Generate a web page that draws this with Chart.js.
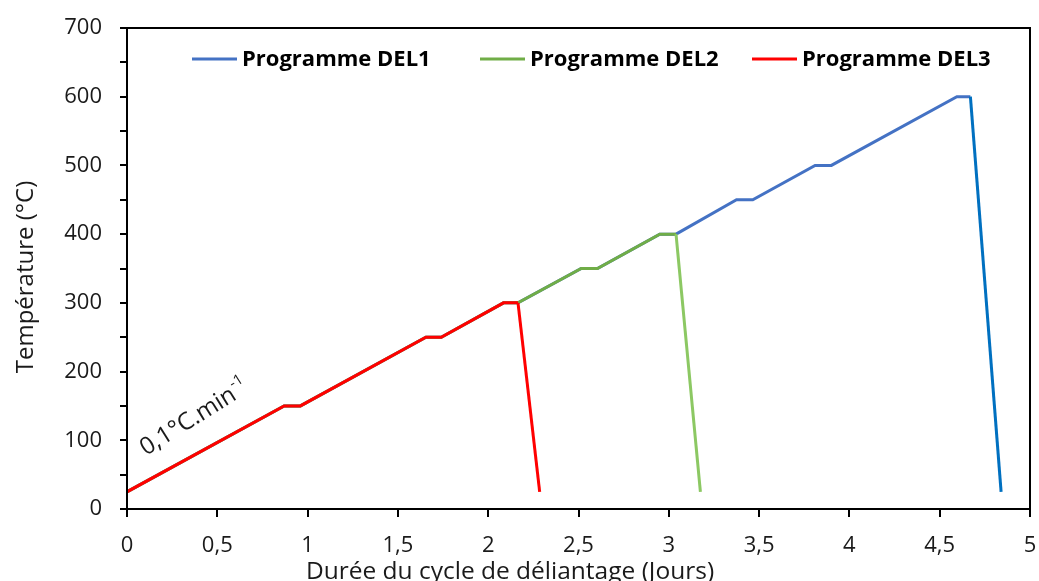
<!DOCTYPE html>
<html lang="fr">
<head>
<meta charset="utf-8">
<title>Programmes de déliantage</title>
<script src="https://cdn.jsdelivr.net/npm/chart.js@4.4.1/dist/chart.umd.min.js"></script>
<style>
  html, body { margin: 0; padding: 0; background: #ffffff; }
  #wrap { width: 1039px; height: 581px; position: relative; }
</style>
</head>
<body>
<div id="wrap"><canvas id="cycleChart" width="1039" height="581"></canvas></div>
<script>
// Cycles de déliantage : durée (jours) / température (°C)
const del1Days  = [0, 0.87, 0.96, 1.655, 1.74, 2.085, 2.165, 2.515, 2.605, 2.95, 3.04, 3.375, 3.465, 3.81, 3.90, 4.595, 4.67, 4.84];
const del1Temps = [25, 150, 150, 250, 250, 300, 300, 350, 350, 400, 400, 450, 450, 500, 500, 600, 600, 25];

const del2Days  = [0, 0.87, 0.96, 1.655, 1.74, 2.085, 2.165, 2.515, 2.605, 2.95, 3.04, 3.175];
const del2Temps = [25, 150, 150, 250, 250, 300, 300, 350, 350, 400, 400, 25];

const del3Days  = [0, 0.87, 0.96, 1.655, 1.74, 2.085, 2.165, 2.285];
const del3Temps = [25, 150, 150, 250, 250, 300, 300, 25];

const seriesLabels = ['Programme DEL1', 'Programme DEL2', 'Programme DEL3'];
const xTicks = [0, 0.5, 1, 1.5, 2, 2.5, 3, 3.5, 4, 4.5, 5];
const yTicks = [0, 100, 200, 300, 400, 500, 600, 700];

const xTitle = 'Durée du cycle de déliantage (Jours)';
const yTitle = 'Température (°C)';
const rampLabel = '0,1°C.min';
const rampExp = '-1';

const FONT = "'Open Sans', 'Liberation Sans', sans-serif";
const INK = '#1a1a1a';

function toPoints(days, temps) {
  return days.map((d, i) => ({ x: d, y: temps[i] }));
}

// le refroidissement final a une teinte un peu différente
function coolingColor(color) {
  return ctx => (ctx.p1.parsed.y < ctx.p0.parsed.y ? color : undefined);
}

function lineSet(label, days, temps, color, cool, order) {
  return {
    label,
    data: toPoints(days, temps),
    borderColor: color,
    backgroundColor: color,
    borderWidth: 3,
    pointRadius: 0,
    tension: 0,
    fill: false,
    order,
    segment: { borderColor: coolingColor(cool) },
  };
}

const datasets = [
  lineSet(seriesLabels[0], del1Days, del1Temps, '#4472c4', '#0070c0', 2),
  lineSet(seriesLabels[1], del2Days, del2Temps, '#70ad47', '#8cc863', 1),
  lineSet(seriesLabels[2], del3Days, del3Temps, '#ff0000', '#ff0000', 0),
];

// cadre, légende, titres d'axes et annotation de rampe
const decorations = {
  id: 'decorations',
  afterDatasetsDraw(chart) {
    const { ctx, chartArea: a, scales } = chart;
    ctx.save();

    ctx.strokeStyle = '#000000';
    ctx.lineWidth = 2;
    ctx.strokeRect(a.left, a.top, a.right - a.left, a.bottom - a.top);

    // légende
    const starts = [192, 480, 752];
    const ly = 59;
    ctx.font = 'bold 22px ' + FONT;
    ctx.textBaseline = 'middle';
    ctx.textAlign = 'left';
    chart.data.datasets.forEach((ds, i) => {
      const x0 = starts[i];
      ctx.strokeStyle = ds.borderColor;
      ctx.lineWidth = 3;
      ctx.beginPath();
      ctx.moveTo(x0, ly);
      ctx.lineTo(x0 + 45, ly);
      ctx.stroke();
      ctx.fillStyle = '#000000';
      ctx.fillText(ds.label, x0 + 50, ly + 1);
    });

    // titres des axes
    ctx.fillStyle = INK;
    ctx.font = '24.5px ' + FONT;
    ctx.textAlign = 'center';
    ctx.textBaseline = 'alphabetic';
    ctx.fillText(xTitle, 510, 579);

    ctx.save();
    ctx.translate(33, 277);
    ctx.rotate(-Math.PI / 2);
    ctx.font = '24px ' + FONT;
    ctx.fillText(yTitle, 0, 0);
    ctx.restore();

    // pente de chauffe
    const px = scales.x.getPixelForValue(0.105);
    const py = scales.y.getPixelForValue(77);
    ctx.translate(px, py);
    ctx.rotate(-32 * Math.PI / 180);
    ctx.textAlign = 'left';
    ctx.font = '24px ' + FONT;
    ctx.fillText(rampLabel, 0, 0);
    const w = ctx.measureText(rampLabel).width;
    ctx.font = '15px ' + FONT;
    ctx.fillText(rampExp, w + 1, -11);

    ctx.restore();
  },
};

const frFmt = v => String(v).replace('.', ',');

new Chart(document.getElementById('cycleChart'), {
  type: 'line',
  data: { datasets },
  plugins: [decorations],
  options: {
    responsive: false,
    animation: false,
    layout: { padding: { left: 0, top: 28, right: 9, bottom: 0 } },
    plugins: {
      legend: { display: false },
      tooltip: { enabled: false },
    },
    scales: {
      x: {
        type: 'linear',
        min: 0,
        max: 5,
        afterFit: s => { s.height = 72; s.paddingLeft = 0; s.paddingRight = 0; },
        afterBuildTicks: s => { s.ticks = xTicks.map(v => ({ value: v })); },
        ticks: {
          color: INK,
          font: { family: FONT, size: 22 },
          padding: 16,
          maxRotation: 0,
          autoSkip: false,
          callback: frFmt,
        },
        grid: { drawOnChartArea: false, tickLength: 8, color: '#000000', lineWidth: 2 },
        border: { color: '#000000', width: 2 },
      },
      y: {
        min: 0,
        max: 700,
        afterFit: s => { s.width = 127; s.paddingTop = 0; s.paddingBottom = 0; },
        afterBuildTicks: s => {
          // graduations secondaires tous les 50 °C, sans libellé
          const t = [];
          yTicks.forEach((v, i) => {
            t.push({ value: v });
            if (i < yTicks.length - 1) t.push({ value: v + 50 });
          });
          s.ticks = t;
        },
        ticks: {
          color: INK,
          font: { family: FONT, size: 22 },
          padding: 18,
          autoSkip: false,
          callback: v => (yTicks.includes(v) ? String(v) : ''),
        },
        grid: { drawOnChartArea: false, tickLength: 7, color: '#000000', lineWidth: 2 },
        border: { color: '#000000', width: 2 },
      },
    },
  },
});
</script>
</body>
</html>
